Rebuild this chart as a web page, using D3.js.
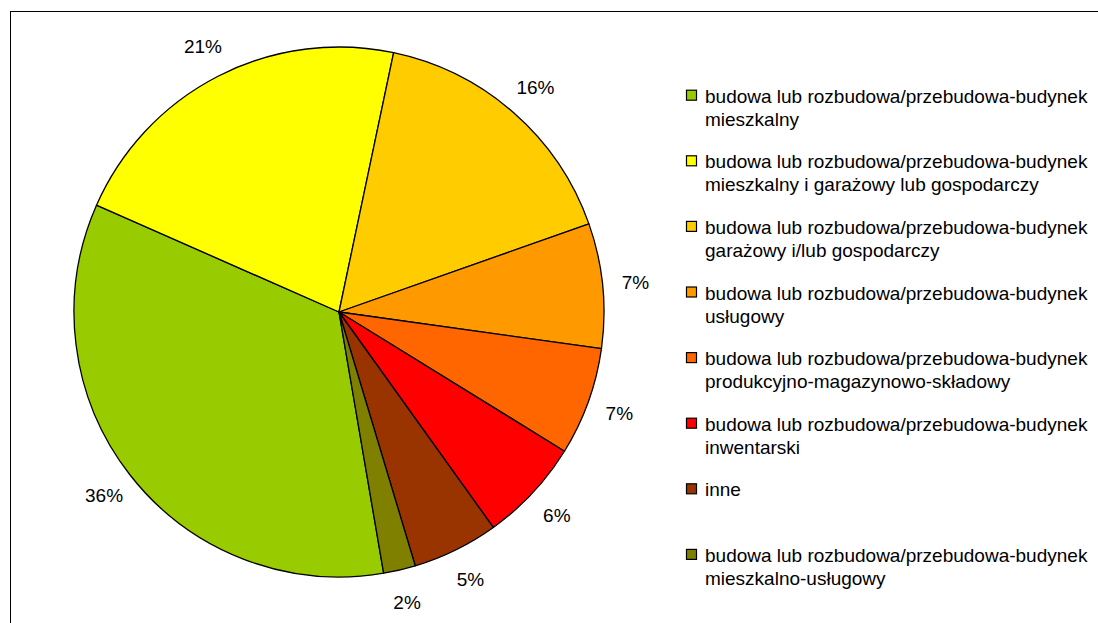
<!DOCTYPE html>
<html>
<head>
<meta charset="utf-8">
<script src="https://cdn.jsdelivr.net/npm/d3@7"></script>
<style>
  html, body { margin: 0; padding: 0; background: #fff; }
  svg { display: block; }
  text { font-family: "Liberation Sans", Arial, sans-serif; fill: #000; }
</style>
</head>
<body>
<svg id="chart" width="1098" height="623"></svg>
<script>
// ---- data ----
const categories = [
  ["budowa lub rozbudowa/przebudowa-budynek", "mieszkalny"],
  ["budowa lub rozbudowa/przebudowa-budynek", "mieszkalny i garażowy lub gospodarczy"],
  ["budowa lub rozbudowa/przebudowa-budynek", "garażowy i/lub gospodarczy"],
  ["budowa lub rozbudowa/przebudowa-budynek", "usługowy"],
  ["budowa lub rozbudowa/przebudowa-budynek", "produkcyjno-magazynowo-składowy"],
  ["budowa lub rozbudowa/przebudowa-budynek", "inwentarski"],
  ["inne"],
  ["budowa lub rozbudowa/przebudowa-budynek", "mieszkalno-usługowy"]
];
// slice shares
const values = [34.3, 21.7, 16.3, 7.6, 6.6, 6.3, 5.25, 1.95];
// data labels as printed on the chart
const labels = ["36%", "21%", "16%", "7%", "7%", "6%", "5%", "2%"];
const colors = ["#99CC00", "#FFFF00", "#FFCC00", "#FF9900", "#FF6600", "#FF0000", "#993300", "#808000"];

// ---- layout ----
const svg = d3.select("#chart");
const cx = 339, cy = 312, R = 265, labelR = 298;
const startDeg = 170.3;

svg.append("rect")
  .attr("x", 10.5).attr("y", 11.5)
  .attr("width", 1200).attr("height", 700)
  .attr("fill", "#fff").attr("stroke", "#000").attr("stroke-width", 1);

const pie = d3.pie().sort(null).value(d => d)
  .startAngle(startDeg * Math.PI / 180)
  .endAngle(startDeg * Math.PI / 180 + 2 * Math.PI);
const arcs = pie(values);
const arc = d3.arc().innerRadius(0).outerRadius(R);
const labelArc = d3.arc().innerRadius(labelR).outerRadius(labelR);

const g = svg.append("g").attr("transform", `translate(${cx},${cy})`);
g.selectAll("path.slice").data(arcs).enter().append("path")
  .attr("class", "slice")
  .attr("d", arc)
  .attr("fill", (d, i) => colors[i])
  .attr("stroke", "#000").attr("stroke-width", 1.3)
  .attr("stroke-linejoin", "round");

g.selectAll("text.lbl").data(arcs).enter().append("text")
  .attr("class", "lbl")
  .attr("transform", d => `translate(${labelArc.centroid(d)})`)
  .attr("text-anchor", "middle")
  .attr("dominant-baseline", "central")
  .attr("font-size", 19)
  .text((d, i) => labels[i]);

// ---- legend ----
const legX = 686, textX = 705, firstBase = 102.7, pitch = 65.6, lineH = 23;
const leg = svg.append("g");
categories.forEach((lines, i) => {
  const base = firstBase + i * pitch;
  leg.append("rect")
    .attr("x", legX + 0.5).attr("y", base - 12.5)
    .attr("width", 10).attr("height", 10)
    .attr("fill", colors[i]).attr("stroke", "#000").attr("stroke-width", 1.2);
  const t = leg.append("text").attr("x", textX).attr("y", base).attr("font-size", 19);
  lines.forEach((ln, j) => {
    t.append("tspan").attr("x", textX).attr("y", base + j * lineH).text(ln);
  });
});
</script>
</body>
</html>
